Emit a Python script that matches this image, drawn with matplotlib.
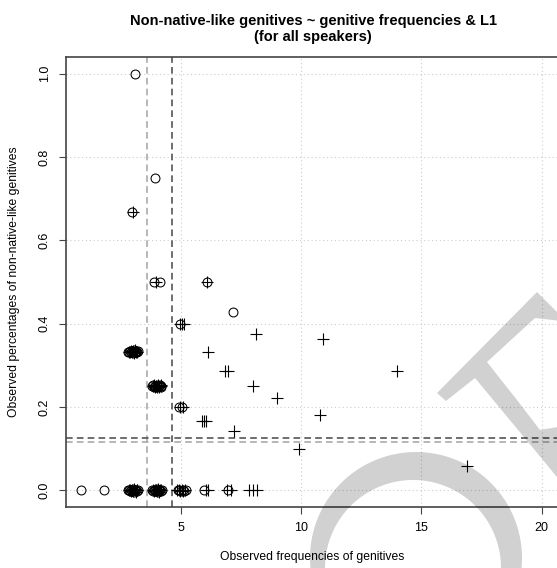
import numpy as np
import matplotlib.pyplot as plt
from matplotlib.path import Path
from matplotlib.patches import PathPatch

plt.rcParams['font.family'] = ['Liberation Sans', 'DejaVu Sans']

W, H = 557, 568

# speakers of the first L1 group (open circles), jittered frequencies
circ_freq = [0.84, 1.80, 3.09, 3.92, 7.16, 2.98, 3.88, 4.12, 6.08, 4.95, 4.92, 5.05,
             2.81, 2.85, 2.89, 2.93, 2.97, 3.00, 3.03, 3.07, 3.11, 3.14, 3.18, 3.20,
             3.81, 3.85, 3.89, 3.93, 3.97, 4.00, 4.04, 4.08, 4.12, 4.15, 4.19,
             2.80, 2.84, 2.88, 2.92, 2.96, 3.00, 3.04, 3.08, 3.12, 3.16, 3.20,
             3.80, 3.84, 3.88, 3.92, 3.96, 4.01, 4.05, 4.09, 4.13, 4.17, 4.20,
             4.86, 4.93, 5.00, 5.07, 5.14, 5.19,
             5.97, 6.96]
circ_pct = [0.0, 0.0, 1.0, 0.75, 0.429, 0.667, 0.5, 0.5, 0.5, 0.4, 0.2, 0.2,
            0.333, 0.331, 0.335, 0.332, 0.334, 0.330, 0.336, 0.333, 0.331, 0.335, 0.332, 0.334,
            0.25, 0.252, 0.248, 0.251, 0.249, 0.253, 0.247, 0.250, 0.252, 0.248, 0.251,
            0.0, 0.002, -0.002, 0.001, -0.001, 0.003, -0.003, 0.0, 0.002, -0.002, 0.001,
            0.0, -0.002, 0.002, 0.001, -0.001, 0.003, -0.003, 0.0, 0.002, -0.002, 0.001,
            0.0, 0.002, -0.002, 0.001, -0.001, 0.0,
            0.0, 0.0]

# speakers of the second L1 group (plus signs)
plus_freq = [3.00, 3.95, 6.10, 4.96, 5.04, 5.12, 4.98, 5.08,
             6.13, 8.10, 10.90, 6.85, 6.95, 8.00, 9.00, 14.00, 10.80,
             5.88, 5.97, 6.06, 7.20, 9.90, 16.90,
             2.82, 2.87, 2.92, 2.96, 3.01, 3.05, 3.10, 3.14, 3.18,
             3.82, 3.87, 3.91, 3.96, 4.01, 4.06, 4.10, 4.15, 4.19,
             2.82, 2.87, 2.92, 2.97, 3.02, 3.06, 3.11, 3.16, 3.19,
             3.82, 3.86, 3.91, 3.96, 4.00, 4.05, 4.10, 4.14, 4.18,
             4.84, 4.90, 4.97, 5.04, 5.10, 5.16,
             6.03, 6.12, 6.92, 7.08, 7.83, 7.99, 8.15]
plus_pct = [0.667, 0.5, 0.5, 0.4, 0.4, 0.4, 0.2, 0.2,
            0.333, 0.375, 0.364, 0.286, 0.286, 0.25, 0.222, 0.286, 0.182,
            0.167, 0.167, 0.167, 0.143, 0.1, 0.059,
            0.333, 0.331, 0.335, 0.332, 0.334, 0.330, 0.336, 0.333, 0.332,
            0.25, 0.252, 0.248, 0.251, 0.249, 0.253, 0.247, 0.250, 0.252,
            0.0, 0.002, -0.002, 0.001, -0.001, 0.003, -0.003, 0.0, 0.002,
            0.0, -0.002, 0.002, 0.001, -0.001, 0.003, -0.003, 0.0, 0.002,
            0.0, 0.002, -0.002, 0.001, -0.001, 0.0,
            0.0, 0.0, 0.0, 0.0, 0.0, 0.0, 0.0]

# reference lines: group medians of frequency, group means of percentages
vlines = [3.57, 4.63]
hlines = [0.117, 0.125]
line_cols = ['#aaaaaa', '#555555']

xticks = [5, 10, 15, 20]
yticks = [0.0, 0.2, 0.4, 0.6, 0.8, 1.0]


def fig_xy(px, py):
    return px / W, 1 - py / H


fig = plt.figure(figsize=(W / 100, H / 100), dpi=100)
x0, y1 = fig_xy(66, 57)
x1, y0 = fig_xy(560, 507)
ax = fig.add_axes([x0, y0, x1 - x0, y1 - y0])
ax.set_xlim(0.22, 20.76)
ax.set_ylim(-0.04, 1.04)

for v in xticks:
    ax.axvline(v, color='#cccccc', lw=0.8, ls=(0, (1, 2.5)), zorder=0)
for v in yticks:
    ax.axhline(v, color='#cccccc', lw=0.8, ls=(0, (1, 2.5)), zorder=0)

for v, c in zip(vlines, line_cols):
    ax.axvline(v, color=c, lw=1.2, ls=(0, (4, 2.5)), zorder=1)
for v, c in zip(hlines, line_cols):
    ax.axhline(v, color=c, lw=1.2, ls=(0, (4, 2.5)), zorder=1)

ax.plot(circ_freq, circ_pct, ls='none', marker='o', mfc='none', mec='black',
        ms=6.4, mew=0.75, zorder=3)
ax.plot(plus_freq, plus_pct, ls='none', marker='+', color='black',
        ms=9, mew=0.8, zorder=3)

ax.set_xticks(xticks)
ax.set_yticks(yticks)
ax.set_yticklabels(['%.1f' % v for v in yticks], rotation=90, va='center')
ax.tick_params(direction='out', length=5, width=0.8, color='#444444',
               labelsize=9, pad=6)
for s in ax.spines.values():
    s.set_color('#444444')
    s.set_linewidth(1.2)

fig.text(*fig_xy(312, 557), 'Observed frequencies of genitives',
         ha='center', va='center', fontsize=8.7)
fig.text(*fig_xy(14, 282), 'Observed percentages of non-native-like genitives',
         ha='center', va='center', rotation=90, fontsize=8.7)
fig.text(*fig_xy(313, 29), 'Non-native-like genitives ~ genitive frequencies & L1\n(for all speakers)',
         ha='center', va='center', fontsize=10.5, fontweight='bold', linespacing=1.1)

# grey stamp drawn over the plot
t = np.linspace(0, 2 * np.pi, 200)
outer = np.c_[416 + 106 * np.cos(t), 558 + 106 * np.sin(t)]
inner = np.c_[413 + 88 * np.cos(t[::-1]), 568 + 88 * np.sin(t[::-1])]
ring = np.vstack([outer, inner])
codes = [Path.MOVETO] + [Path.LINETO] * 199 + [Path.MOVETO] + [Path.LINETO] * 199
stamp = [Path(np.array([fig_xy(x, y) for x, y in ring]), codes)]

arm = [(437, 393), (537, 292), (600, 355), (600, 530), (543, 460), (475, 378), (446, 401)]
hole = [(487, 362), (535, 318), (570, 322), (570, 425), (540, 430), (517, 400)]
pts = arm + arm[:1] + hole[::-1] + hole[-1:]
arm_codes = [Path.MOVETO] + [Path.LINETO] * (len(arm) - 1) + [Path.CLOSEPOLY] + \
            [Path.MOVETO] + [Path.LINETO] * (len(hole) - 1) + [Path.CLOSEPOLY]
stamp.append(Path(np.array([fig_xy(x, y) for x, y in pts]), arm_codes))

for p in stamp:
    fig.add_artist(PathPatch(p, transform=fig.transFigure, facecolor='black',
                             edgecolor='none', alpha=0.18, zorder=10))

fig.savefig('out.png', dpi=100)
